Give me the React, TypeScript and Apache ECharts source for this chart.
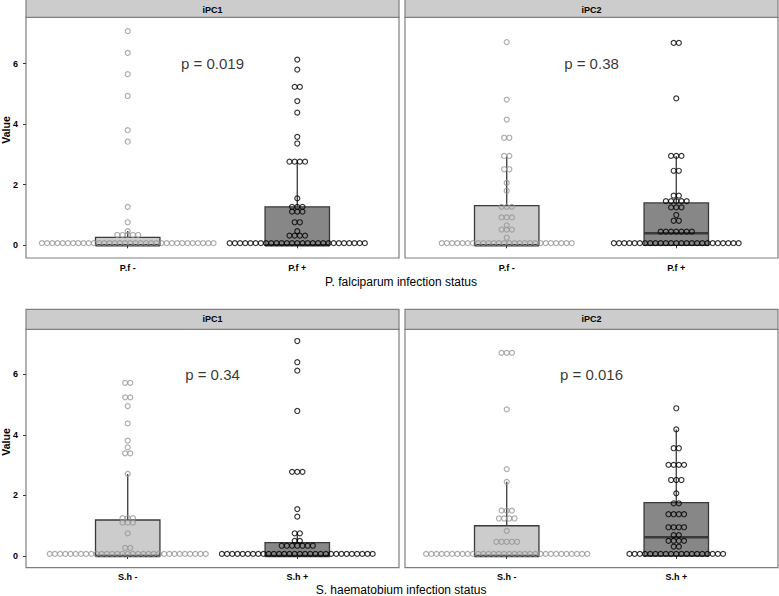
import React, { useEffect, useRef } from "react";
import * as echarts from "echarts";

// ---------- data ----------
const rowCategories = [
  ["P.f -", "P.f +"],
  ["S.h -", "S.h +"],
];
const rowAxisTitles = ["P. falciparum infection status", "S. haematobium infection status"];
const panelTitles = ["iPC1", "iPC2"];
const yTickValues = [0, 2, 4, 6];
const pValueLabels = [
  ["p = 0.019", "p = 0.38"],
  ["p = 0.34", "p = 0.016"],
];

// dot values: [value, number of dots at that value]
const pfNegIPC1: [number, number][] = [[0.07, 34], [0.34, 5], [0.47, 1], [0.76, 1], [1.27, 1], [3.42, 1], [3.8, 1], [4.93, 1], [5.65, 1], [6.35, 1], [7.07, 1]];
const pfPosIPC1: [number, number][] = [[0.07, 27], [0.32, 4], [0.47, 1], [0.76, 2], [1.11, 3], [1.27, 3], [1.55, 1], [2.76, 4], [3.36, 1], [3.58, 1], [4.38, 1], [4.76, 1], [5.23, 2], [5.8, 1], [6.13, 1]];
const pfNegIPC2: [number, number][] = [[0.07, 26], [0.25, 1], [0.52, 3], [0.66, 1], [0.92, 3], [1.27, 3], [1.8, 1], [2.06, 1], [2.51, 2], [2.95, 2], [3.55, 2], [4.15, 1], [4.81, 1], [6.71, 1]];
const pfPosIPC2: [number, number][] = [[0.07, 25], [0.45, 7], [0.81, 2], [1.0, 1], [1.25, 3], [1.46, 5], [1.64, 2], [2.46, 2], [2.95, 3], [4.85, 1], [6.68, 2]];
const shNegIPC1: [number, number][] = [[0.07, 31], [0.27, 2], [0.75, 1], [1.1, 3], [1.25, 3], [2.71, 1], [3.39, 2], [3.59, 1], [3.81, 1], [4.38, 1], [4.95, 1], [5.24, 2], [5.72, 2]];
const shPosIPC1: [number, number][] = [[0.07, 30], [0.34, 7], [0.5, 2], [0.75, 2], [1.3, 1], [1.55, 1], [2.78, 3], [4.79, 1], [6.12, 1], [6.4, 1], [7.1, 1]];
const shNegIPC2: [number, number][] = [[0.07, 32], [0.47, 5], [0.83, 1], [1.24, 4], [1.5, 3], [2.45, 1], [2.87, 1], [4.84, 1], [6.71, 3]];
const shPosIPC2: [number, number][] = [[0.07, 19], [0.31, 2], [0.5, 4], [0.69, 2], [0.95, 4], [1.38, 4], [1.74, 2], [2.07, 1], [2.51, 3], [3.01, 4], [3.56, 2], [4.18, 1], [4.88, 1]];

// box stats: [q1, median, q3, upper whisker end]
const pfNegIPC1Box = [0, 0, 0.26, 0.47];
const pfPosIPC1Box = [0, 0, 1.27, 2.76];
const pfNegIPC2Box = [0, 0, 1.31, 2.95];
const pfPosIPC2Box = [0, 0.4, 1.4, 2.95];
const shNegIPC1Box = [0, 0, 1.19, 2.71];
const shPosIPC1Box = [0, 0, 0.44, 0.75];
const shNegIPC2Box = [0, 0, 1.0, 2.45];
const shPosIPC2Box = [0, 0.62, 1.76, 4.18];

const panelDots = [
  [[pfNegIPC1, pfPosIPC1], [pfNegIPC2, pfPosIPC2]],
  [[shNegIPC1, shPosIPC1], [shNegIPC2, shPosIPC2]],
];
const panelBoxes = [
  [[pfNegIPC1Box, pfPosIPC1Box], [pfNegIPC2Box, pfPosIPC2Box]],
  [[shNegIPC1Box, shPosIPC1Box], [shNegIPC2Box, shPosIPC2Box]],
];

// ---------- layout / style ----------
const FONT = "'Liberation Sans', Arial, Helvetica, sans-serif";
const GRID_X = [26, 405];
const GRID_W = 373;
const ROW_TOP = [17.3, 329.3];
const ROW_H = [240.7, 238.4];
const STRIP_TOP = [-3, 309.3];
const Y_RANGE = [
  [-0.419, 7.527],
  [-0.386, 7.487],
];
const X_MIN = 0.4;
const X_MAX = 2.6;
const PX_PER_UNIT = GRID_W / (X_MAX - X_MIN);
const DOT_STEP = 5.2 / PX_PER_UNIT;
const BOX_HALF = 0.19;
const NEG_DOT = "#959595";
const POS_DOT = "#000000";
const NEG_FILL = "#cccccc";
const POS_FILL = "#878787";
const BOX_LINE = "#3a3a3a";

function stackDots(groups: [number, number][], center: number) {
  const pts: number[][] = [];
  for (const [v, n] of groups) {
    for (let i = 0; i < n; i++) pts.push([center + (i - (n - 1) / 2) * DOT_STEP, v]);
  }
  return pts;
}

export default function App() {
  const ref = useRef<HTMLDivElement>(null);

  useEffect(() => {
    if (!ref.current) return;
    const chart = echarts.init(ref.current, null, { renderer: "svg" });

    const grids: any[] = [];
    const xAxes: any[] = [];
    const yAxes: any[] = [];
    const series: any[] = [];
    const graphics: any[] = [];

    for (let r = 0; r < 2; r++) {
      for (let c = 0; c < 2; c++) {
        const gi = r * 2 + c;
        grids.push({
          left: GRID_X[c],
          top: ROW_TOP[r],
          width: GRID_W,
          height: ROW_H[r],
          show: true,
          backgroundColor: "#ffffff",
          borderColor: "#7f7f7f",
          borderWidth: 1.2,
          containLabel: false,
        });
        const cats = rowCategories[r];
        xAxes.push({
          type: "value",
          gridIndex: gi,
          min: X_MIN,
          max: X_MAX,
          axisLine: { show: false },
          splitLine: { show: false },
          axisTick: { show: true, customValues: [1, 2], length: 3, lineStyle: { color: "#333", width: 1 } },
          axisLabel: {
            show: true,
            customValues: [1, 2],
            formatter: (v: number) => (Math.round(v) === 1 ? cats[0] : cats[1]),
            margin: 5,
            fontSize: 9,
            fontWeight: "bold",
            color: "#000",
            fontFamily: FONT,
          },
        });
        yAxes.push({
          type: "value",
          gridIndex: gi,
          min: Y_RANGE[r][0],
          max: Y_RANGE[r][1],
          axisLine: { show: false },
          splitLine: { show: false },
          axisTick: { show: c === 0, customValues: yTickValues, length: 3, lineStyle: { color: "#333", width: 1 } },
          axisLabel: {
            show: c === 0,
            customValues: yTickValues,
            formatter: (v: number) => String(Math.round(v)),
            margin: 8,
            fontSize: 9,
            fontWeight: "bold",
            color: "#000",
            fontFamily: FONT,
          },
        });

        const boxes = panelBoxes[r][c];
        series.push({
          type: "custom",
          xAxisIndex: gi,
          yAxisIndex: gi,
          silent: true,
          z: 2,
          data: [
            [1, ...boxes[0]],
            [2, ...boxes[1]],
          ],
          renderItem: (params: any, api: any) => {
            const x = api.value(0);
            const q1 = api.value(1);
            const med = api.value(2);
            const q3 = api.value(3);
            const hi = api.value(4);
            const tl = api.coord([x - BOX_HALF, q3]);
            const br = api.coord([x + BOX_HALF, q1]);
            const wTop = api.coord([x, hi]);
            const wBot = api.coord([x, q3]);
            const mL = api.coord([x - BOX_HALF, med]);
            const mR = api.coord([x + BOX_HALF, med]);
            const fill = params.dataIndex === 0 ? NEG_FILL : POS_FILL;
            return {
              type: "group",
              children: [
                {
                  type: "line",
                  shape: { x1: wTop[0], y1: wTop[1], x2: wBot[0], y2: wBot[1] },
                  style: { stroke: BOX_LINE, lineWidth: 1.3 },
                },
                {
                  type: "rect",
                  shape: { x: tl[0], y: tl[1], width: br[0] - tl[0], height: br[1] - tl[1] },
                  style: { fill, stroke: BOX_LINE, lineWidth: 1.3 },
                },
                {
                  type: "line",
                  shape: { x1: mL[0], y1: mL[1], x2: mR[0], y2: mR[1] },
                  style: { stroke: BOX_LINE, lineWidth: 2.4 },
                },
              ],
            };
          },
        });

        const dots = panelDots[r][c];
        [0, 1].forEach((k) => {
          series.push({
            type: "scatter",
            xAxisIndex: gi,
            yAxisIndex: gi,
            silent: true,
            z: 3,
            symbol: "circle",
            symbolSize: 5,
            itemStyle: {
              color: "rgba(255,255,255,0)",
              borderColor: k === 0 ? NEG_DOT : POS_DOT,
              borderWidth: 1.15,
            },
            data: stackDots(dots[k], k + 1),
          });
        });

        series.push({
          type: "scatter",
          xAxisIndex: gi,
          yAxisIndex: gi,
          silent: true,
          z: 4,
          symbolSize: 1,
          itemStyle: { color: "rgba(0,0,0,0)" },
          label: {
            show: true,
            position: "inside",
            formatter: pValueLabels[r][c],
            fontSize: 15,
            color: "#000",
            fontFamily: FONT,
          },
          data: [[1.5, 6]],
        });

        // strip
        const stripH = ROW_TOP[r] - STRIP_TOP[r];
        graphics.push({
          type: "rect",
          shape: { x: GRID_X[c], y: STRIP_TOP[r], width: GRID_W, height: stripH },
          style: { fill: "#cccccc", stroke: "#7f7f7f", lineWidth: 1.2 },
          z: 10,
        });
        graphics.push({
          type: "text",
          x: GRID_X[c] + GRID_W / 2,
          y: r === 0 ? 9.5 : 319.3,
          style: {
            text: panelTitles[c],
            fill: "#000",
            fontSize: 9,
            fontWeight: "bold",
            fontFamily: FONT,
            align: "center",
            verticalAlign: "middle",
          },
          z: 11,
        });
      }

      graphics.push({
        type: "text",
        x: 6,
        y: r === 0 ? 130 : 442,
        rotation: Math.PI / 2,
        style: {
          text: "Value",
          fill: "#000",
          fontSize: 10.5,
          fontWeight: "bold",
          fontFamily: FONT,
          align: "center",
          verticalAlign: "middle",
        },
        z: 11,
      });
      graphics.push({
        type: "text",
        x: 401,
        y: r === 0 ? 282 : 590,
        style: {
          text: rowAxisTitles[r],
          fill: "#000",
          fontSize: 12,
          fontFamily: FONT,
          align: "center",
          verticalAlign: "middle",
        },
        z: 11,
      });
    }

    chart.setOption({
      animation: false,
      backgroundColor: "#ffffff",
      textStyle: { fontFamily: FONT },
      grid: grids,
      xAxis: xAxes,
      yAxis: yAxes,
      series,
      graphic: graphics,
    });

    return () => chart.dispose();
  }, []);

  return (
    <div
      ref={ref}
      style={{ position: "fixed", left: 0, top: 0, width: 779, height: 596 }}
    />
  );
}
